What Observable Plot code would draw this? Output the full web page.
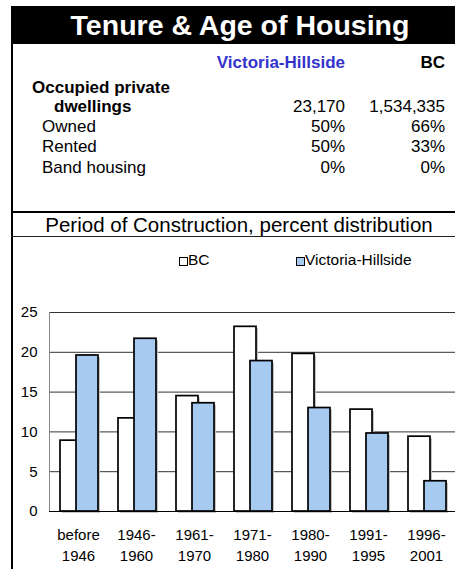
<!DOCTYPE html>
<html>
<head>
<meta charset="utf-8">
<script src="https://cdn.jsdelivr.net/npm/d3@7"></script>
<script src="https://cdn.jsdelivr.net/npm/@observablehq/plot@0.6"></script>
<style>
  html, body { margin: 0; padding: 0; background: #fff; }
  #page { position: relative; width: 455px; height: 569px; overflow: hidden; font-family: "Liberation Sans", Arial, sans-serif; color: #000; }
  .t { position: absolute; white-space: nowrap; line-height: 1; }
  .b { font-weight: bold; }
  #chart { position: absolute; left: 0; top: 280px; }
</style>
</head>
<body>
<div id="page"></div>
<script>
// ---- data ----
const title = "Tenure & Age of Housing";
const regionName = "Victoria-Hillside";
const provName = "BC";
const tableRows = ["Owned", "Rented", "Band housing"];
const dwellingsRegion = "23,170";
const dwellingsProv = "1,534,335";
const tableRegion = ["50%", "50%", "0%"];
const tableProv = ["66%", "33%", "0%"];
const chartTitle = "Period of Construction, percent distribution";
const series = ["BC", "Victoria-Hillside"];
const categories = ["before 1946", "1946-1960", "1961-1970", "1971-1980", "1980-1990", "1991-1995", "1996-2001"];
const tickLabels = ["before\n1946", "1946-\n1960", "1961-\n1970", "1971-\n1980", "1980-\n1990", "1991-\n1995", "1996-\n2001"];
const bcValues = [8.9, 11.7, 14.5, 23.2, 19.8, 12.8, 9.4];
const vhValues = [19.6, 21.7, 13.6, 18.9, 13.0, 9.8, 3.8];
const yTicks = [0, 5, 10, 15, 20, 25];

const page = document.getElementById("page");
function box(css) { const d = document.createElement("div"); d.style.cssText = "position:absolute;" + css; page.appendChild(d); return d; }
function txt(s, fs, baseline, opts = {}) {
  const d = document.createElement("div");
  d.className = "t" + (opts.bold ? " b" : "");
  d.textContent = s;
  d.style.fontSize = fs + "px";
  d.style.top = (baseline - 0.8465 * fs) + "px";
  if (opts.left != null) d.style.left = opts.left + "px";
  if (opts.right != null) d.style.right = (455 - opts.right) + "px";
  if (opts.center != null) { d.style.left = (opts.center - 300) + "px"; d.style.width = "600px"; d.style.textAlign = "center"; }
  if (opts.color) d.style.color = opts.color;
  page.appendChild(d);
  return d;
}

// frame pieces
box("left:11px;top:6px;width:444px;height:38px;background:#000;");
box("left:11px;top:44px;width:2px;height:525px;background:#000;");
box("left:11px;top:211px;width:444px;height:2px;background:#000;");
box("left:11px;top:236px;width:444px;height:1px;background:#222;");

txt(title, 28.5, 35, { bold: true, center: 240, color: "#fff" });
txt(regionName, 17, 68, { bold: true, right: 345, color: "#3333cc" });
txt(provName, 17, 68, { bold: true, right: 445 });
txt("Occupied private", 17, 93, { bold: true, left: 32 });
txt("dwellings", 17, 112, { bold: true, left: 54 });
txt(dwellingsRegion, 17, 112, { right: 345 });
txt(dwellingsProv, 17, 112, { right: 445 });
const rowBase = [132, 152, 173];
tableRows.forEach((r, i) => {
  txt(r, 17, rowBase[i], { left: 42 });
  txt(tableRegion[i], 17, rowBase[i], { right: 345 });
  txt(tableProv[i], 17, rowBase[i], { right: 445 });
});
txt(chartTitle, 20.5, 232, { center: 239 });

// legend
box("left:179px;top:257px;width:7px;height:7px;border:1.3px solid #000;background:#fff;");
txt(series[0], 15.5, 265, { left: 188 });
box("left:296px;top:257px;width:7px;height:7px;border:1.3px solid #000;background:#a6caf0;");
txt(series[1], 15.5, 265, { left: 305 });

// chart
const data = [];
categories.forEach((c, i) => {
  data.push({ period: c, series: series[0], value: bcValues[i] });
  data.push({ period: c, series: series[1], value: vhValues[i] });
});
const bc = data.filter(d => d.series === series[0]);
const vh = data.filter(d => d.series === series[1]);

const chart = Plot.plot({
  width: 455,
  height: 289,
  marginLeft: 49,
  marginRight: 0,
  marginTop: 32,
  marginBottom: 58,
  style: { fontFamily: "Liberation Sans, Arial, sans-serif", fontSize: "15px", color: "#000", background: "transparent" },
  x: { domain: categories, padding: 0 },
  y: { domain: [0, 25] },
  marks: [
    Plot.ruleY(yTicks.filter(d => d > 0), { stroke: "#333", strokeWidth: 1 }),
    Plot.frame({ anchor: "left", stroke: "#888" }),
    Plot.barY(bc, { x: "period", y: "value", fill: "#c4c4c4", insetLeft: 11, insetRight: 25, dx: 2, dy: 2 }),
    Plot.barY(vh, { x: "period", y: "value", fill: "#c4c4c4", insetLeft: 27, insetRight: 9, dx: 2, dy: 2 }),
    Plot.barY(bc, { x: "period", y: "value", fill: "#fff", stroke: "#000", strokeWidth: 1.7, insetLeft: 11, insetRight: 25 }),
    Plot.barY(vh, { x: "period", y: "value", fill: "#a6caf0", stroke: "#000", strokeWidth: 1.7, insetLeft: 27, insetRight: 9 }),
    Plot.ruleY([0], { stroke: "#000", strokeWidth: 1.2 }),
    Plot.axisY({ ticks: yTicks, tickSize: 0, tickPadding: 12, fontSize: 15, label: null }),
    Plot.axisX({ tickSize: 0, tickPadding: 14, fontSize: 15, lineHeight: 1.4, label: null,
      tickFormat: d => tickLabels[categories.indexOf(d)] })
  ]
});
chart.id = "chart";
page.appendChild(chart);
</script>
</body>
</html>
